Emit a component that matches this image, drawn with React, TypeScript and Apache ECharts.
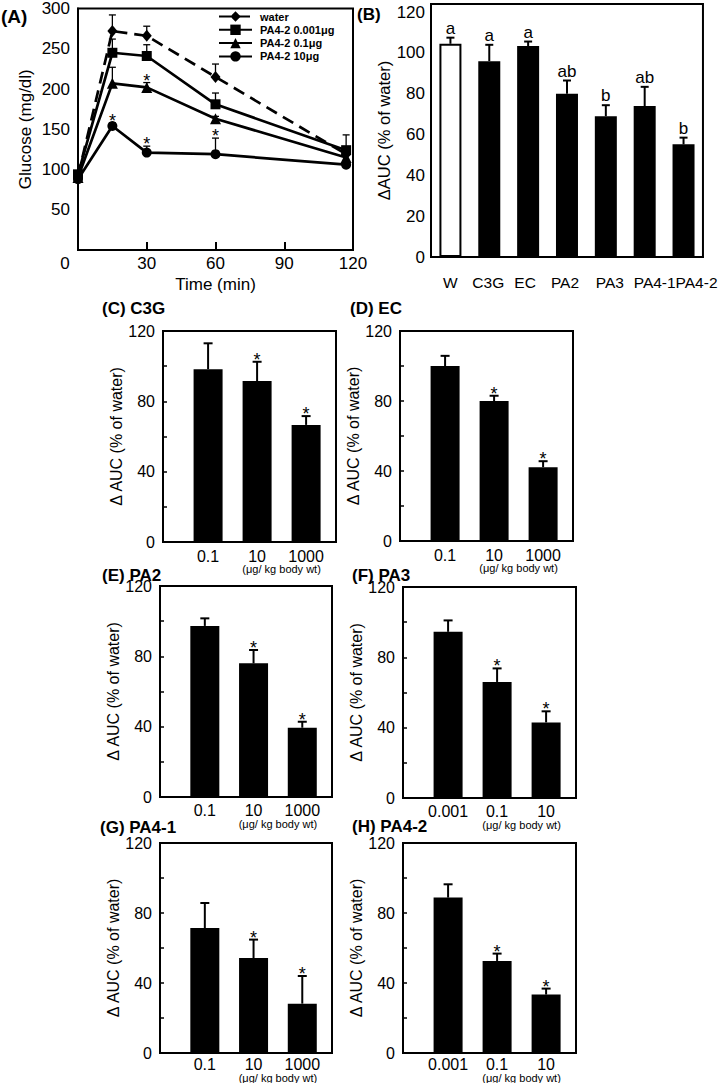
import React, { useEffect, useRef } from 'react';
import * as echarts from 'echarts';

const FONT = '"Liberation Sans", Arial, Helvetica, sans-serif';

// ---------- Panel A : glucose time course ----------
const timeMin = [0, 15, 30, 60, 117];
const legendA = ['water', 'PA4-2 0.001μg', 'PA4-2 0.1μg', 'PA4-2 10μg'];
const waterMean = [92, 272, 266, 215, 119];
const waterErr = [3, 20, 12, 16, 3];
const pa0001Mean = [94, 245, 241, 181, 124];
const pa0001Err = [3, 17, 14, 14, 19];
const pa01Mean = [90, 207, 202, 163, 115];
const pa01Err = [3, 20, 6, 3, 3];
const pa10Mean = [88, 154, 121, 119, 106];
const pa10Err = [3, 4, 8, 20, 3];
const noSig = [false, false, false, false, false];
const pa01Sig = [false, false, true, false, false];
const pa10Sig = [false, true, true, true, false];

// ---------- Panel B : AUC by compound ----------
const bCats = ['W', 'C3G', 'EC', 'PA2', 'PA3', 'PA4-1', 'PA4-2'];
const bMean = [104.5, 96, 103.4, 80, 69, 74, 55.2];
const bErr = [3, 8, 2.2, 6.5, 5.4, 9.4, 3.3];
const bLetters = ['a', 'a', 'a', 'ab', 'b', 'ab', 'b'];

// ---------- Panels C-H : dose response ----------
const doseX = [1, 2, 3];
const doseLabelsHigh = ['0.1', '10', '1000'];
const doseLabelsLow = ['0.001', '0.1', '10'];
const doseSig = [false, true, true];
const c3gMean = [98.3, 91.5, 66.6];
const c3gErr = [14.7, 11, 5];
const ecMean = [100, 80, 42.2];
const ecErr = [5.8, 3, 3.4];
const pa2Mean = [97.3, 76, 39.4];
const pa2Err = [4.3, 7.6, 3.4];
const pa3Mean = [94.5, 66, 43];
const pa3Err = [6.5, 7.7, 6.3];
const pa41Mean = [71.4, 54.3, 28.2];
const pa41Err = [14.3, 10.5, 15.8];
const pa42Mean = [88.8, 52.6, 33.4];
const pa42Err = [7.6, 4.2, 3.4];
const unitText = '(μg/ kg body wt)';

function errRenderer(lineWidth: number, cap: number, starSize: number, starMode: 'star' | 'letter', letters?: string[]) {
  return (params: any, api: any) => {
    const x = api.value(0);
    const m = api.value(1);
    const e = api.value(2);
    const s = api.value(3);
    const p0 = api.coord([x, m]);
    const p1 = api.coord([x, m + e]);
    const children: any[] = [
      { type: 'line', shape: { x1: p0[0], y1: p0[1], x2: p1[0], y2: p1[1] }, style: { stroke: '#000', lineWidth } },
      { type: 'line', shape: { x1: p1[0] - cap, y1: p1[1], x2: p1[0] + cap, y2: p1[1] }, style: { stroke: '#000', lineWidth } },
    ];
    if (starMode === 'star' && s) {
      children.push({
        type: 'text', x: p1[0], y: p1[1] - 2,
        style: { text: '*', fontSize: starSize, fontFamily: FONT, fill: '#000', align: 'center', verticalAlign: 'middle' },
      });
    }
    if (starMode === 'letter' && letters) {
      children.push({
        type: 'text', x: p1[0], y: p1[1] - 1,
        style: { text: letters[params.dataIndex], fontSize: starSize, fontFamily: FONT, fill: '#000', align: 'center', verticalAlign: 'bottom' },
      });
    }
    return { type: 'group', children };
  };
}

function buildOption() {
  const grids: any[] = [];
  const xAxes: any[] = [];
  const yAxes: any[] = [];
  const series: any[] = [];
  const graphics: any[] = [];
  const axisLine = { show: true, lineStyle: { color: '#000', width: 2 } };
  const frame = { show: true, borderColor: '#000', borderWidth: 2, backgroundColor: 'transparent' };

  // Panel A
  grids.push({ left: 78, top: 3, width: 275, height: 247, ...frame });
  xAxes.push({
    type: 'value', gridIndex: 0, min: 0, max: 120, interval: 30,
    axisLine, splitLine: { show: false },
    axisTick: { inside: true, length: 8, lineStyle: { color: '#000', width: 2 } },
    axisLabel: {
      fontSize: 17, color: '#000', fontFamily: FONT, margin: 5,
      formatter: (v: number) => (v === 0 ? '{z|0}' : String(v)),
      rich: { z: { fontSize: 17, color: '#000', fontFamily: FONT, padding: [0, 26, 0, 0] } },
    },
    name: 'Time (min)', nameLocation: 'middle', nameGap: 26,
    nameTextStyle: { fontSize: 17, color: '#000', fontFamily: FONT },
  });
  yAxes.push({
    type: 'value', gridIndex: 0, min: 0, max: 300, interval: 50,
    axisLine, splitLine: { show: false }, axisTick: { show: false },
    axisLabel: { fontSize: 17, color: '#000', fontFamily: FONT, margin: 8, formatter: (v: number) => (v === 0 ? '' : String(v)) },
    name: 'Glucose (mg/dl)', nameLocation: 'middle', nameGap: 44,
    nameTextStyle: { fontSize: 17, color: '#000', fontFamily: FONT },
  });
  const groupsA = [
    { name: legendA[0], mean: waterMean, err: waterErr, sig: noSig, symbol: 'diamond', size: [10, 12], dash: [12, 7] },
    { name: legendA[1], mean: pa0001Mean, err: pa0001Err, sig: noSig, symbol: 'rect', size: 10, dash: 'solid' },
    { name: legendA[2], mean: pa01Mean, err: pa01Err, sig: pa01Sig, symbol: 'triangle', size: 11, dash: 'solid' },
    { name: legendA[3], mean: pa10Mean, err: pa10Err, sig: pa10Sig, symbol: 'circle', size: 10, dash: 'solid' },
  ];
  groupsA.forEach((g) => {
    series.push({
      type: 'custom', xAxisIndex: 0, yAxisIndex: 0, z: 1,
      data: timeMin.map((t, i) => [t, g.mean[i], g.err[i], g.sig[i] ? 1 : 0]),
      renderItem: errRenderer(1.3, 3.5, 18, 'star'),
    });
    series.push({
      name: g.name, type: 'line', xAxisIndex: 0, yAxisIndex: 0, z: 3,
      data: timeMin.map((t, i) => [t, g.mean[i]]),
      symbol: g.symbol, symbolSize: g.size, showAllSymbol: true,
      lineStyle: { color: '#000', width: 2.7, type: g.dash },
      itemStyle: { color: '#000' },
    });
  });

  // Panel B
  const bNudge = [0, -1, -3, -2, 4, 10, 13];
  const bRich: any = {};
  bNudge.forEach((n, i) => {
    bRich['s' + i] = {
      fontSize: 15.5, color: '#000', fontFamily: FONT,
      padding: n >= 0 ? [0, 0, 0, 2 * n] : [0, -2 * n, 0, 0],
    };
  });
  grids.push({ left: 431, top: 4, width: 279, height: 253, ...frame });
  xAxes.push({
    type: 'category', gridIndex: 1, data: bCats, boundaryGap: true,
    axisLine, axisTick: { show: false },
    axisLabel: {
      fontSize: 15.5, color: '#000', fontFamily: FONT, margin: 17, interval: 0,
      formatter: (v: string, i: number) => `{s${i}|${v}}`, rich: bRich,
    },
  });
  yAxes.push({
    type: 'value', gridIndex: 1, min: 0, max: 124, interval: 20,
    axisLine, splitLine: { show: false },
    axisTick: { inside: true, length: 4, lineStyle: { color: '#000', width: 1.5 } },
    axisLabel: { fontSize: 17, color: '#000', fontFamily: FONT, margin: 6, showMaxLabel: false },
    name: 'ΔAUC (% of water)', nameLocation: 'middle', nameGap: 29,
    nameTextStyle: { fontSize: 16.5, color: '#000', fontFamily: FONT },
  });
  series.push({
    type: 'bar', xAxisIndex: 1, yAxisIndex: 1, barWidth: 22,
    data: bMean.map((v, i) => (i === 0
      ? { value: v, itemStyle: { color: '#fff', borderColor: '#000', borderWidth: 2 } }
      : { value: v, itemStyle: { color: '#000' } })),
  });
  series.push({
    type: 'custom', xAxisIndex: 1, yAxisIndex: 1, z: 3,
    data: bMean.map((v, i) => [i, v, bErr[i], 0]),
    renderItem: errRenderer(2, 4, 17, 'letter', bLetters),
  });

  // Panels C-H
  const xMin = 0.08;
  const xMax = 3.61;
  const panels = [
    { title: '(C) C3G', tx: 102, ty: 308, left: 163, top: 331, width: 173, height: 211, ly: 3, lm: 6, uy: 27, labels: doseLabelsHigh, mean: c3gMean, err: c3gErr },
    { title: '(D) EC', tx: 350, ty: 308, left: 400, top: 331, width: 173, height: 210, ly: 3, lm: 6, uy: 27, labels: doseLabelsHigh, mean: ecMean, err: ecErr },
    { title: '(E) PA2', tx: 102, ty: 575, left: 160, top: 586, width: 172, height: 211, ly: 5, lm: 5, uy: 27, labels: doseLabelsHigh, mean: pa2Mean, err: pa2Err },
    { title: '(F) PA3', tx: 352, ty: 575, left: 403, top: 587, width: 173, height: 211, ly: 4, lm: 5, uy: 27, labels: doseLabelsLow, mean: pa3Mean, err: pa3Err },
    { title: '(G) PA4-1', tx: 100, ty: 827, left: 160, top: 843, width: 172, height: 210, ly: 2, lm: 3, uy: 25, labels: doseLabelsHigh, mean: pa41Mean, err: pa41Err },
    { title: '(H) PA4-2', tx: 352, ty: 826, left: 403, top: 843, width: 173, height: 210, ly: 2, lm: 3, uy: 25, labels: doseLabelsLow, mean: pa42Mean, err: pa42Err },
  ];
  panels.forEach((p, k) => {
    const gi = k + 2;
    grids.push({ left: p.left, top: p.top, width: p.width, height: p.height, ...frame });
    xAxes.push({
      type: 'value', gridIndex: gi, min: xMin, max: xMax,
      axisLine, splitLine: { show: false }, axisTick: { show: false },
      axisLabel: {
        customValues: doseX, fontSize: 16, color: '#000', fontFamily: FONT, margin: p.lm,
        formatter: (v: number) => p.labels[Math.round(v) - 1] ?? '',
      },
    });
    yAxes.push({
      type: 'value', gridIndex: gi, min: 0, max: 120, interval: 20,
      axisLine, splitLine: { show: false },
      axisTick: { inside: true, length: 4, lineStyle: { color: '#000', width: 1.5 } },
      axisLabel: {
        fontSize: 16, color: '#000', fontFamily: FONT, margin: 8, padding: [2 * p.ly, 0, 0, 0],
        formatter: (v: number) => (v % 40 === 0 ? String(v) : ''),
      },
      name: 'Δ AUC (% of water)', nameLocation: 'middle', nameGap: 32,
      nameTextStyle: { fontSize: 16, color: '#000', fontFamily: FONT },
    });
    series.push({
      type: 'bar', xAxisIndex: gi, yAxisIndex: gi, barWidth: 29,
      data: doseX.map((x, i) => [x, p.mean[i]]),
      itemStyle: { color: '#000' },
    });
    series.push({
      type: 'custom', xAxisIndex: gi, yAxisIndex: gi, z: 3,
      data: doseX.map((x, i) => [x, p.mean[i], p.err[i], doseSig[i] ? 1 : 0]),
      renderItem: errRenderer(2, 4.5, 18, 'star'),
    });
    graphics.push({
      type: 'text', x: p.tx, y: p.ty,
      style: { text: p.title, fontSize: 17, fontWeight: 'bold', fontFamily: FONT, fill: '#000', align: 'left', verticalAlign: 'middle' },
    });
    graphics.push({
      type: 'text', x: p.left + ((2.5 - xMin) / (xMax - xMin)) * p.width, y: p.top + p.height + p.uy,
      style: { text: unitText, fontSize: 11, fontFamily: FONT, fill: '#000', align: 'center', verticalAlign: 'middle' },
    });
  });

  graphics.push({
    type: 'text', x: 1, y: 16,
    style: { text: '(A)', fontSize: 19, fontWeight: 'bold', fontFamily: FONT, fill: '#000', align: 'left', verticalAlign: 'middle' },
  });
  graphics.push({
    type: 'text', x: 357, y: 14,
    style: { text: '(B)', fontSize: 17, fontWeight: 'bold', fontFamily: FONT, fill: '#000', align: 'left', verticalAlign: 'middle' },
  });

  return {
    animation: false,
    backgroundColor: '#fff',
    textStyle: { fontFamily: FONT, color: '#000' },
    legend: {
      data: legendA, orient: 'vertical', left: 213, top: 6,
      itemWidth: 33, itemHeight: 13, itemGap: 2.3,
      textStyle: { fontSize: 11, fontWeight: 'bold', color: '#000', fontFamily: FONT, padding: [0, 0, 0, 3] },
    },
    grid: grids,
    xAxis: xAxes,
    yAxis: yAxes,
    series,
    graphic: graphics,
  };
}

export default function App() {
  const ref = useRef<HTMLDivElement>(null);
  useEffect(() => {
    if (!ref.current) return;
    const chart = echarts.init(ref.current, null, { renderer: 'svg' });
    chart.setOption(buildOption() as any);
    return () => chart.dispose();
  }, []);
  return (
    <div
      ref={ref}
      style={{ position: 'absolute', left: 0, top: 0, width: 720, height: 1083, background: '#fff' }}
    />
  );
}
